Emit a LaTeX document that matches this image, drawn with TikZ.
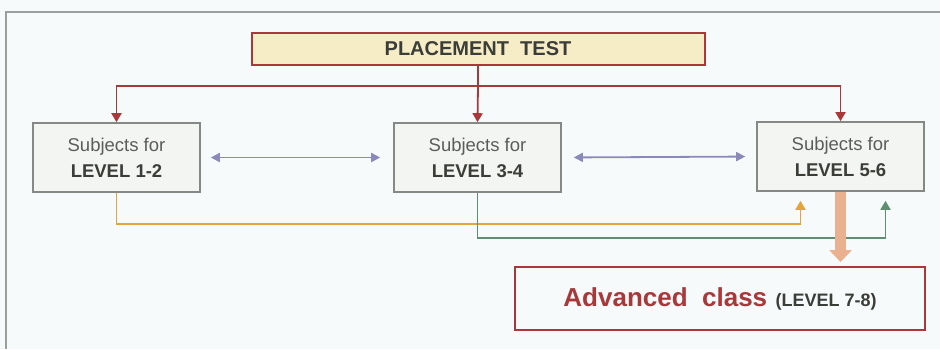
\documentclass[tikz,border=0pt]{standalone}
\usepackage{fontspec}
\setmainfont{Liberation Sans}
\usetikzlibrary{positioning,arrows.meta,calc}
\definecolor{bgcol}{HTML}{F7FAFA}
\definecolor{framecol}{HTML}{9C9E9E}
\definecolor{testfill}{HTML}{F6EDC6}
\definecolor{myred}{HTML}{A8383A}
\definecolor{boxfill}{HTML}{F3F5F2}
\definecolor{boxline}{HTML}{858885}
\definecolor{mypurple}{HTML}{8B88BA}
\definecolor{myorange}{HTML}{E2A53C}
\definecolor{mygreen}{HTML}{5F8F70}
\definecolor{mypeach}{HTML}{E9B18F}
\definecolor{darktext}{HTML}{3A3D38}
\definecolor{softtext}{HTML}{5A5D5A}
\tikzset{
  levelbox/.style={draw=boxline, line width=1.6pt, fill=boxfill, minimum width=167pt,
    minimum height=69pt, align=center, font=\fontsize{18.5}{26}\selectfont},
  redarrow/.style={draw=myred, line width=1.8pt, -{Triangle[width=10pt,length=9pt]}},
  sidearrow/.style={draw=mypurple, line width=1.8pt, {Triangle[width=9pt,length=9pt]}-{Triangle[width=9pt,length=9pt]}},
  uparrow/.style={line width=1.8pt, -{Triangle[width=10pt,length=9pt]}}
}
\begin{document}
\begin{tikzpicture}[x=1pt,y=-1pt]
  %% page and outer frame
  \fill[bgcol] (0,0) rectangle (940,349);
  \useasboundingbox (0,0) rectangle (940,349);
  \draw[framecol, line width=1.5pt] (6,349) -- (6,12) -- (940,12);

  %% placement test on top
  \node[draw=myred, line width=2pt, fill=testfill, minimum width=453pt, minimum height=32pt,
    text=darktext, font=\fontsize{20}{22}\selectfont\bfseries] (test) at (478,48.5) {PLACEMENT\ \ TEST};

  %% the three level boxes
  \node[levelbox] (lvlA) at (116.5,157.5) {\textcolor{softtext}{Subjects for}\\ \textcolor{darktext}{\bfseries LEVEL 1-2}};
  \node[levelbox] (lvlB) at (477.5,157.5) {\textcolor{softtext}{Subjects for}\\ \textcolor{darktext}{\bfseries LEVEL 3-4}};
  \node[levelbox] (lvlC) at (840.5,156.5) {\textcolor{softtext}{Subjects for}\\ \textcolor{darktext}{\bfseries LEVEL 5-6}};

  %% advanced class
  \node[draw=myred, line width=2pt, fill=bgcol, minimum width=410pt, minimum height=63pt] (adv) at (720,298.5)
    {\textcolor{myred}{\fontsize{26}{30}\selectfont\bfseries Advanced\ \ class}\ \ \ \textcolor{darktext}{\fontsize{18}{22}\selectfont\bfseries(LEVEL 7-8)}};

  %% red tree from the test
  \coordinate (split) at (test.south |- 0,86);
  \draw[myred, line width=1.8pt] (test.south) -- (split);
  \draw[redarrow] (split) -| (lvlA.north);
  \draw[redarrow] (split) -- (lvlB.north);
  \draw[redarrow] (split) -| (lvlC.north);

  %% moving between levels
  \draw[sidearrow, shorten <=10pt, shorten >=13pt] (lvlA.east) -- (lvlB.west);
  \draw[sidearrow, shorten <=12pt, shorten >=11pt] (lvlB.east) -- (lvlC.west);

  %% jumping up to level 5-6
  \draw[uparrow, myorange] (lvlA.south) -- ++(0,31) -| ([xshift=-40pt,yshift=-9pt]lvlC.south);
  \draw[uparrow, mygreen] (lvlB.south) -- ++(0,45) -| ([xshift=45pt,yshift=-9pt]lvlC.south);

  %% on to the advanced class
  \draw[mypeach, line width=11pt, -{Triangle[width=22pt,length=12pt]}, shorten >=4pt] (lvlC.south) -- (lvlC.south |- adv.north);
\end{tikzpicture}
\end{document}
